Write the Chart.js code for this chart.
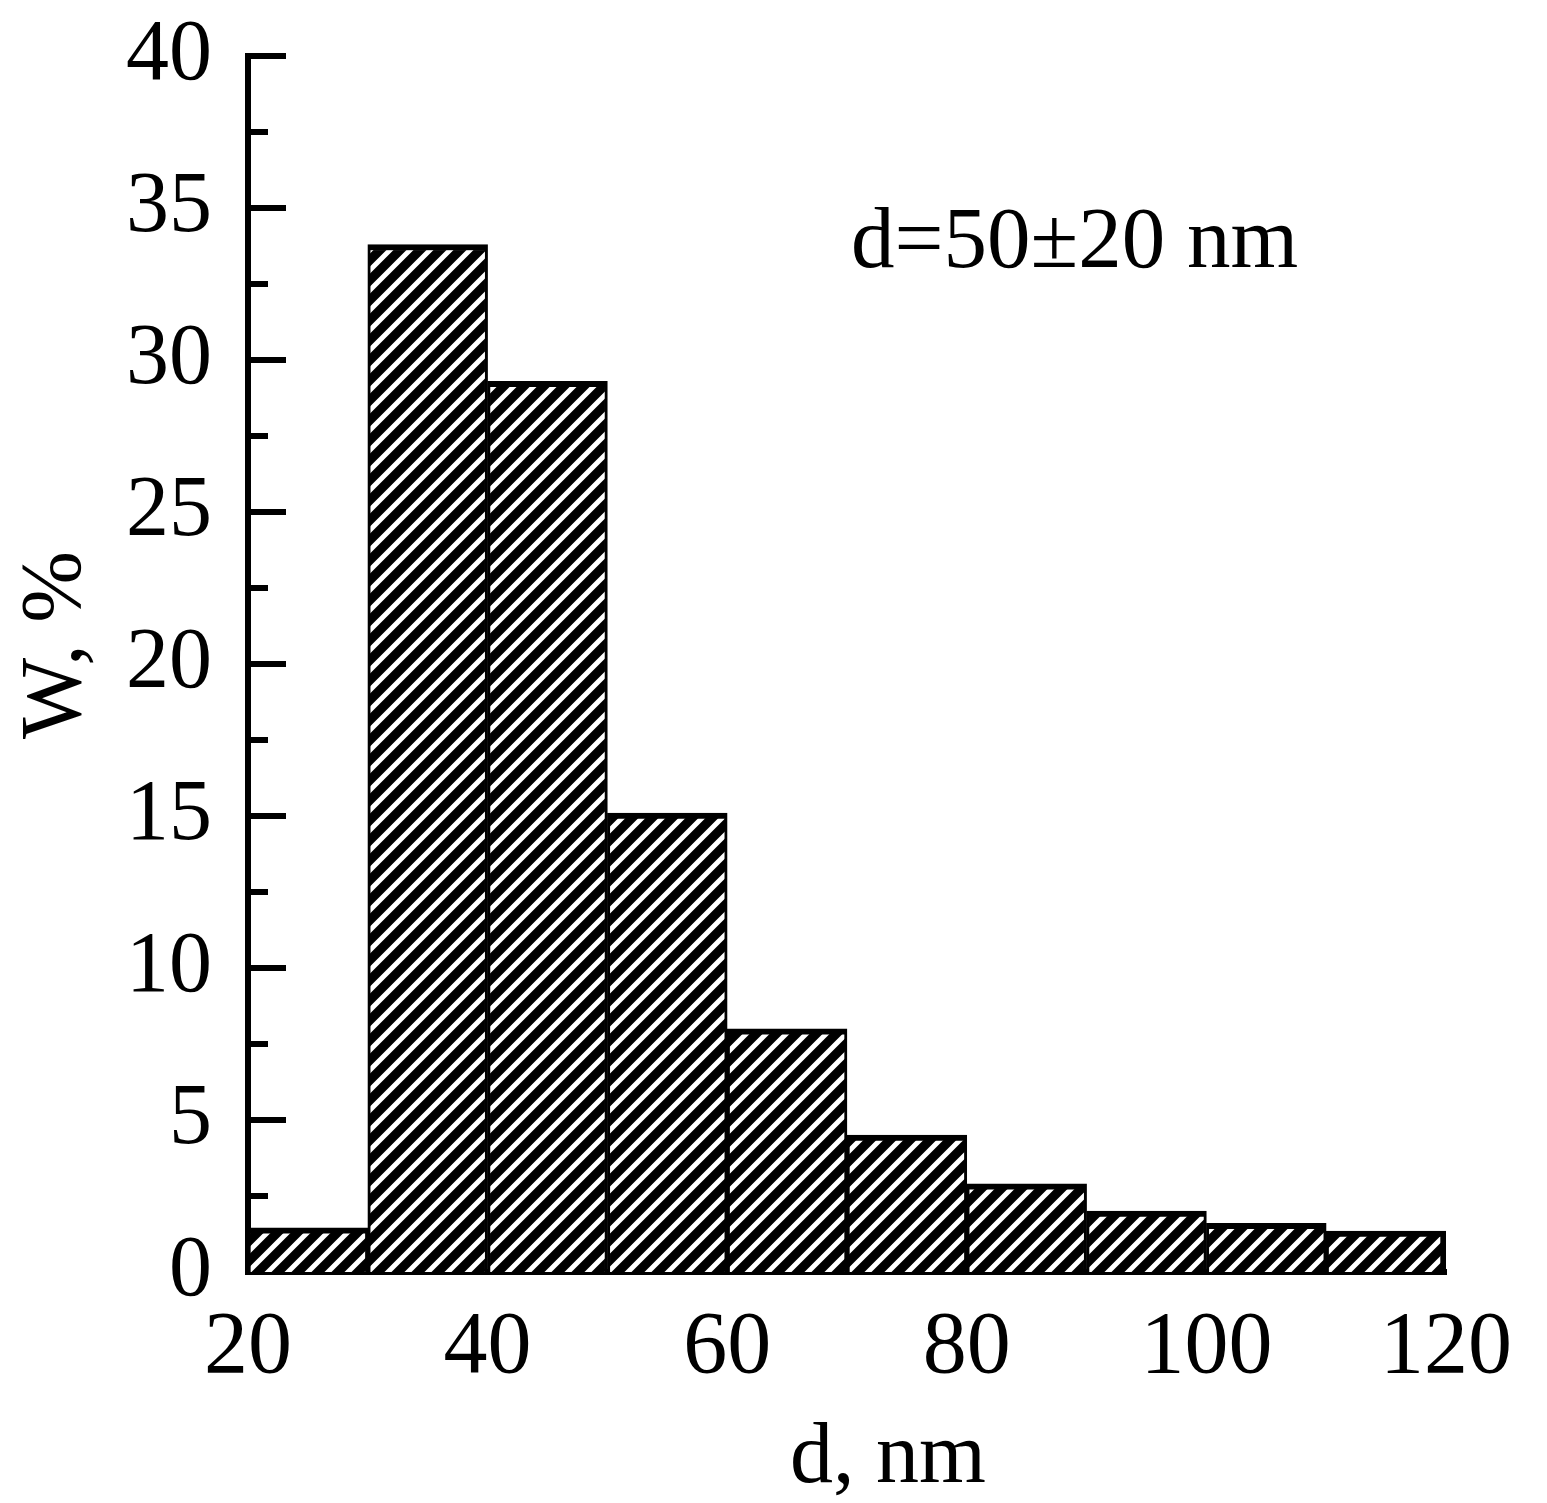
<!DOCTYPE html>
<html>
<head>
<meta charset="utf-8">
<title>Particle size distribution</title>
<script src="https://cdn.jsdelivr.net/npm/chart.js@4.4.1/dist/chart.umd.min.js"></script>
<style>
    html, body { margin: 0; padding: 0; background: #fff; }
    #wrap { width: 1547px; height: 1503px; }
</style>
</head>
<body>
<div id="wrap"><canvas id="histChart" width="1547" height="1503"></canvas></div>
<script>
// bin centres (nm) and share of particles (%)
const binCenters = [25, 35, 45, 55, 65, 75, 85, 95, 105, 115];
const shares = [1.45, 33.8, 29.3, 15.1, 8.0, 4.5, 2.9, 2.0, 1.6, 1.35];

// tick labels
const xTicks = [20, 40, 60, 80, 100, 120];
const yTicks = [0, 5, 10, 15, 20, 25, 30, 35, 40];
const yMinorTicks = [2.5, 7.5, 12.5, 17.5, 22.5, 27.5, 32.5, 37.5];

const xTitle = "d, nm";
const yTitle = "W, %";
const annotationText = "d=50\u00b120 nm";

document.addEventListener("DOMContentLoaded", function () {
    const FONT = "'Liberation Serif', 'Times New Roman', serif";

    // hatch fill like the original plot: black with thin white "/" stripes
    function makeHatch() {
        const c = document.createElement("canvas");
        c.width = 20;
        c.height = 20;
        const g = c.getContext("2d");
        g.fillStyle = "#000";
        g.fillRect(0, 0, 20, 20);
        g.strokeStyle = "#fff";
        g.lineWidth = 5;
        g.beginPath();
        g.moveTo(-5, 5); g.lineTo(5, -5);     // x+y = 0
        g.moveTo(-5, 25); g.lineTo(25, -5);   // x+y = 20
        g.moveTo(15, 25); g.lineTo(25, 15);   // x+y = 40
        g.stroke();
        return g.createPattern(c, "repeat");
    }

    const ctx = document.getElementById("histChart").getContext("2d");
    const hatch = makeHatch();

    // inward ticks on the y axis (major + minor)
    const innerTicks = {
        id: "innerTicks",
        afterDatasetsDraw(chart) {
            const c = chart.ctx;
            const y = chart.scales.y;
            const left = chart.chartArea.left;
            c.save();
            c.strokeStyle = "#000";
            c.lineWidth = 6;
            yTicks.concat(yMinorTicks).forEach(v => {
                if (v === 0) return;
                const py = y.getPixelForValue(v);
                const len = yTicks.includes(v) ? 38 : 20;
                c.beginPath();
                c.moveTo(left, py);
                c.lineTo(left + len, py);
                c.stroke();
            });
            c.restore();
        }
    };

    // axis titles and the "d=50±20 nm" label
    const texts = {
        id: "texts",
        afterDraw(chart) {
            const c = chart.ctx;
            c.save();
            c.fillStyle = "#000";
            c.textBaseline = "alphabetic";

            c.font = "87px " + FONT;
            c.textAlign = "left";
            c.fillText(annotationText, 851, 267);

            c.font = "86px " + FONT;
            c.fillText(xTitle, 790, 1482);

            c.translate(80, 645);
            c.rotate(-Math.PI / 2);
            c.textAlign = "center";
            c.fillText(yTitle, 0, 0);
            c.restore();
        }
    };

    new Chart(ctx, {
        type: "bar",
        data: {
            datasets: [{
                label: "W",
                data: binCenters.map((x, i) => ({ x: x, y: shares[i] })),
                backgroundColor: hatch,
                borderColor: "#000",
                borderWidth: function (c) {
                    const last = c.dataIndex === shares.length - 1;
                    return { top: 6, left: 3, right: last ? 6 : 3, bottom: 0 };
                },
                borderSkipped: "start",
                barPercentage: 1.0,
                categoryPercentage: 1.0
            }]
        },
        options: {
            responsive: false,
            animation: false,
            layout: {
                padding: { top: 56, right: 101, left: 0, bottom: 0 }
            },
            plugins: {
                legend: { display: false },
                tooltip: { enabled: false }
            },
            scales: {
                x: {
                    type: "linear",
                    min: 20,
                    max: 120,
                    offset: false,
                    afterBuildTicks: s => { s.ticks = xTicks.map(v => ({ value: v })); },
                    afterFit: s => {
                        s.height = 231;
                        s.paddingLeft = 0;
                        s.paddingRight = 0;
                    },
                    grid: { display: false, offset: false, drawTicks: false },
                    border: { display: true, color: "#000", width: 6 },
                    ticks: {
                        color: "#000",
                        padding: 24,
                        maxRotation: 0,
                        font: { family: FONT, size: 88 }
                    }
                },
                y: {
                    min: 0,
                    max: 40,
                    afterBuildTicks: s => { s.ticks = yTicks.map(v => ({ value: v })); },
                    afterFit: s => {
                        s.width = 248;
                        s.paddingTop = 0;
                        s.paddingBottom = 0;
                    },
                    grid: { display: false, drawTicks: false },
                    border: { display: true, color: "#000", width: 6 },
                    ticks: {
                        color: "#000",
                        padding: 36,
                        font: { family: FONT, size: 86 }
                    }
                }
            }
        },
        plugins: [innerTicks, texts]
    });
});
</script>
</body>
</html>
